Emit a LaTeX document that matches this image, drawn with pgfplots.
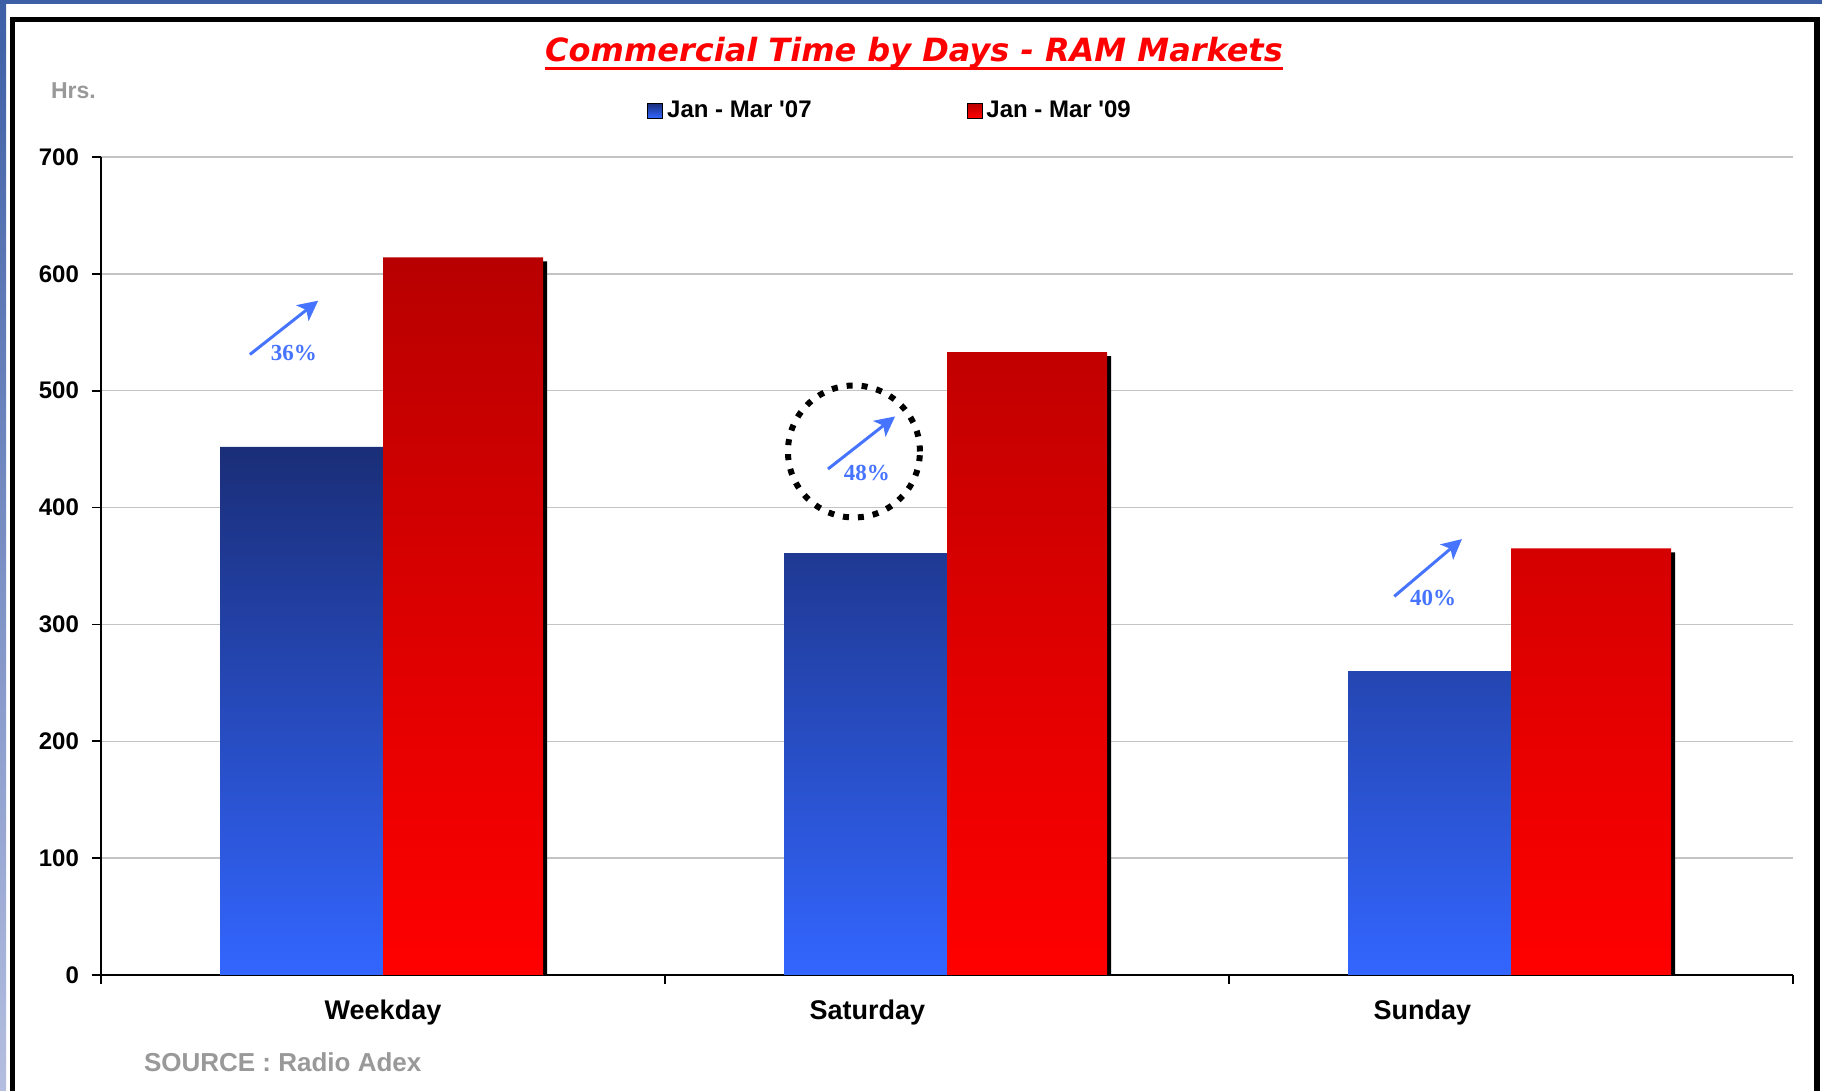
\documentclass[border=0pt]{standalone}
\usepackage{fontspec}
\setmainfont{Liberation Sans}
\newfontfamily\titlefont{DejaVu Sans}
\newfontfamily\pctfont{Liberation Serif}
\usepackage{pgfplots}
\pgfplotsset{compat=1.18}
\usetikzlibrary{arrows.meta}

\definecolor{navytop}{HTML}{1A2E78}
\definecolor{bluebot}{HTML}{3366FF}
\definecolor{redtop}{HTML}{B80000}
\definecolor{redbot}{HTML}{FF0000}
\definecolor{pctblue}{HTML}{4674FF}
\definecolor{notegray}{HTML}{999999}
\definecolor{gridgray}{HTML}{C4C4C4}
\definecolor{slideblue}{HTML}{3D5FA6}
\definecolor{slidelight}{HTML}{B4BEE0}

\begin{document}
\begin{tikzpicture}
% page frame (1px = 0.5pt)
\path[use as bounding box] (0,0) rectangle (911pt,545.5pt);
\fill[white] (0,0) rectangle (911pt,545.5pt);
\fill[slideblue] (0,543.5pt) rectangle (911pt,545.5pt);
\shade[top color=slideblue, bottom color=slidelight] (0,0) rectangle (3pt,545.5pt);
\fill[black] (5pt,0) rectangle (7.5pt,537pt);
\fill[black] (5pt,534.5pt) rectangle (910pt,537pt);
\fill[black] (907pt,0) rectangle (910pt,537pt);

\node[anchor=base, text=red, inner sep=0pt,
      font=\titlefont\bfseries\itshape\fontsize{16}{19}\selectfont]
      (title) at (457pt,514.5pt) {Commercial Time by Days - RAM Markets};
\draw[red, line width=1.5pt] ([yshift=-3.5pt]title.base west) -- ([yshift=-3.5pt]title.base east);
\node[anchor=west, text=notegray, font=\bfseries\fontsize{11.5}{13}\selectfont] at (22pt,500pt) {Hrs.};
\node[anchor=west, text=notegray, font=\bfseries\fontsize{13}{15}\selectfont] at (68.5pt,14.5pt) {SOURCE : Radio Adex};

\begin{axis}[
  at={(50.5pt,58pt)}, anchor=south west,
  scale only axis, width=846pt, height=409pt,
  xmin=-0.5, xmax=2.5, ymin=0, ymax=700,
  axis lines*=left,
  axis line style={black, line width=0.8pt},
  tick style={black, line width=0.8pt},
  major tick length=4.5pt, tick align=outside,
  ytick={0,100,...,700},
  ymajorgrids, grid style={gridgray, line width=0.75pt},
  xtick={-0.5,0.5,1.5,2.5}, xticklabels={},
  extra x ticks={0,0.859,1.843},
  extra x tick labels={Weekday,Saturday,Sunday},
  extra x tick style={major tick length=0pt, grid=none},
  /pgf/number format/assume math mode=true,
  yticklabel style={font=\bfseries\fontsize{12}{14}\selectfont, xshift=-3pt},
  xticklabel style={font=\bfseries\fontsize{13.5}{16}\selectfont, yshift=-9pt},
  legend image code/.code={\fill[#1] (0pt,-3.75pt) rectangle (7.5pt,3.75pt);},
  legend style={at={(0.3227,1.0568)}, anchor=west, draw=none, fill=none,
    inner sep=0pt, font=\bfseries\fontsize{12}{14}\selectfont,
    /tikz/every even column/.append style={column sep=75.5pt}},
  legend columns=2, legend cell align=left,
]
\addplot[ybar, bar width=0.289, bar shift=-0.1445, draw=none, top color=navytop, bottom color=bluebot, forget plot]
  coordinates {(0,452) (1,361) (2,260)};
% black shadow behind the red bars
\addplot[ybar, bar width=0.284, bar shift=0.142, draw=none, fill=black, xshift=2pt, yshift=-2pt, forget plot]
  coordinates {(0,614) (1,533) (2,365)};
\addplot[ybar, bar width=0.284, bar shift=0.142, draw=none, top color=redtop, bottom color=redbot, forget plot]
  coordinates {(0,614) (1,533) (2,365)};
\addlegendimage{top color=navytop, bottom color=bluebot}
\addlegendentry{Jan - Mar \textquotesingle07}
\addlegendimage{top color=redtop, bottom color=redbot}
\addlegendentry{Jan - Mar \textquotesingle09}

% growth annotations
\draw[pctblue, line width=1.5pt, -{Stealth[length=10pt,width=10pt,inset=2.5pt]}]
  (axis cs:-0.236,531) -- (axis cs:-0.115,577);
\node[text=pctblue, font=\pctfont\bfseries\fontsize{11.5}{13}\selectfont] at (axis cs:-0.158,532) {36\%};
\draw[pctblue, line width=1.5pt, -{Stealth[length=10pt,width=10pt,inset=2.5pt]}]
  (axis cs:0.789,433) -- (axis cs:0.908,478);
\node[text=pctblue, font=\pctfont\bfseries\fontsize{11.5}{13}\selectfont] at (axis cs:0.858,430) {48\%};
\draw[black, line width=3pt, dash pattern=on 3pt off 4.5pt] (axis cs:0.835,448) circle[radius=33pt];
\draw[pctblue, line width=1.5pt, -{Stealth[length=10pt,width=10pt,inset=2.5pt]}]
  (axis cs:1.793,324) -- (axis cs:1.913,373);
\node[text=pctblue, font=\pctfont\bfseries\fontsize{11.5}{13}\selectfont] at (axis cs:1.862,323) {40\%};
\end{axis}
\end{tikzpicture}
\end{document}
